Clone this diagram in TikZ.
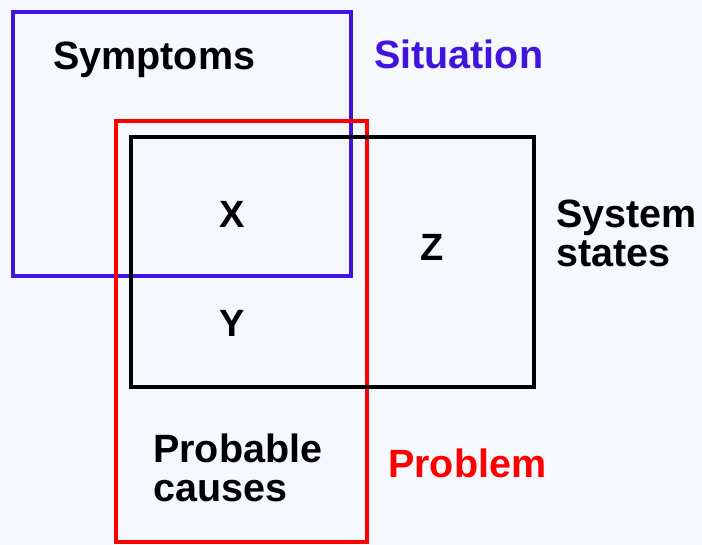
\documentclass[tikz,border=0pt]{standalone}
\usepackage{fontspec}
\setmainfont{Liberation Sans}
\definecolor{bgc}{RGB}{236,242,250}
\definecolor{sitblue}{RGB}{64,20,220}
\definecolor{probred}{RGB}{255,0,0}
\begin{document}
\begin{tikzpicture}[x=1pt,y=-1pt,
  lbl/.style={anchor=base west,inner sep=0pt,font=\fontsize{39.5}{41}\selectfont\bfseries},
  letter/.style={anchor=center,inner sep=0pt,font=\fontsize{38}{40}\selectfont\bfseries},
  setbox/.style={line width=4pt}]
\fill[bgc] (0,0) rectangle (702,545);
\useasboundingbox (0,0) rectangle (702,545);
\fill[white,opacity=0.5] (0,0) rectangle (702,545);
\draw[setbox,sitblue] (13,12) rectangle (351,276);
\draw[setbox,probred] (116,121) rectangle (367,542);
\draw[setbox,black] (131,137) rectangle (534,387);
\node[lbl] (symptoms) at (53,70) {Symptoms};
\node[lbl,text=sitblue] (situation) at (374,69) {Situation};
\node[letter] (x) at (232,214) {X};
\node[letter] (z) at (432,247) {Z};
\node[letter] (y) at (232,323) {Y};
\node[lbl] (sys1) at (556,228) {System};
\node[lbl] (sys2) at (556,267) {states};
\node[lbl] (prob1) at (153,462) {Probable};
\node[lbl] (prob2) at (153,501) {causes};
\node[lbl,text=probred] (problem) at (388,478) {Problem};
\end{tikzpicture}
\end{document}
